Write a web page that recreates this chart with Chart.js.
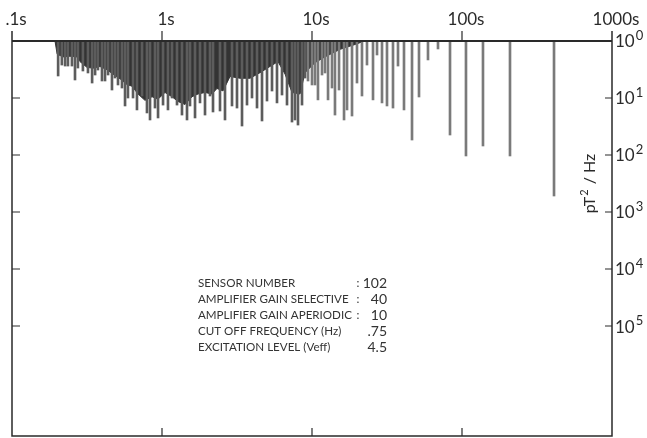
<!DOCTYPE html>
<html lang="en">
<head>
<meta charset="UTF-8" />
<title>Sensor 102 spectrum</title>
<script src="https://cdn.jsdelivr.net/npm/chart.js"></script>
<style>
  * { margin: 0; padding: 0; box-sizing: border-box; }
  body { background: #fff; width: 647px; height: 438px; overflow: hidden; }
  .wrap { position: relative; width: 647px; height: 438px; }
</style>
</head>
<body>
<div class="wrap"><canvas id="spectrum"></canvas></div>
<script>
// spectral lines: period (s) and power (pT^2/Hz)
const periods = [0.203, 0.215, 0.226, 0.236, 0.251, 0.263, 0.275, 0.297, 0.321, 0.342,
  0.358, 0.374, 0.398, 0.417, 0.437, 0.464, 0.486, 0.509, 0.541, 0.567,
  0.593, 0.641, 0.681, 0.736, 0.794, 0.832, 0.898, 0.941, 1.016, 1.096,
  1.166, 1.259, 1.359, 1.468, 1.537, 1.66, 1.792, 1.935, 2.089, 2.188,
  2.436, 2.63, 2.929, 3.162, 3.415, 3.687, 3.981, 4.299, 4.642, 5.012,
  5.412, 5.843, 6.31, 6.813, 7.356, 7.702, 8.065, 8.577, 8.983, 9.405,
  10.0, 10.47, 10.96, 11.66, 12.21, 12.79, 13.59, 14.23, 15.14, 16.35,
  17.12, 18.48, 19.95, 21.54, 23.26, 25.51, 27.13, 29.29, 31.62, 34.67,
  37.44, 41.05, 46.42, 51.68, 59.33, 69.18, 83.18, 106.3, 138.0, 208.9, 410.6];
const power = [4.11, 2.64, 2.75, 2.75, 2.75, 4.83, 2.98, 3.36, 3.64, 5.46,
  3.95, 3.23, 5.03, 5.03, 3.95, 7.24, 4.46, 5.91, 6.68, 13.8,
  10.0, 10.0, 16.2, 9.22, 18.3, 24.3, 15.0, 22.4, 13.3, 16.2,
  10.0, 13.3, 19.9, 24.3, 13.8, 22.4, 12.2, 19.9, 9.22, 17.6,
  16.9, 24.3, 13.8, 15.0, 31.0, 13.3, 10.0, 15.0, 25.3, 11.3,
  7.54, 12.2, 8.86, 13.3, 26.4, 24.3, 29.8, 13.3, 4.46, 5.03,
  5.91, 5.91, 10.8, 3.95, 3.64, 10.8, 6.68, 19.9, 7.24, 24.3,
  16.2, 20.7, 5.46, 9.22, 2.64, 10.8, 1.76, 12.2, 13.8, 15.0,
  2.75, 16.2, 54.6, 9.6, 2.15, 1.38, 44.6, 104, 69.5, 104, 524];

// lower edge of the dark, densely packed part of the spectrum
const massPeriods = [0.1935, 0.2, 0.219, 0.2435, 0.271, 0.284, 0.316, 0.347, 0.386, 0.43,
  0.471, 0.525, 0.584, 0.631, 0.692, 0.77, 0.858, 0.94, 1.047, 1.166,
  1.278, 1.424, 1.585, 1.738, 1.935, 2.154, 2.326, 2.551, 2.841, 3.311,
  3.862, 4.5, 5.248, 5.93, 6.61, 7.36, 8.32, 8.98, 10.47, 12.2, 15.4, 19.4, 22.4];
const massPower = [1.0, 1.7, 1.9, 1.85, 1.9, 2.3, 2.9, 3.0, 2.8, 3.2,
  3.8, 4.6, 5.8, 6.2, 8.5, 11.0, 9.5, 10.5, 8.0, 9.5,
  11.5, 13.0, 9.5, 8.5, 8.0, 8.5, 6.8, 7.5, 4.2, 4.5,
  4.5, 3.6, 2.8, 2.3, 3.8, 8.0, 8.5, 3.6, 2.4, 1.9, 1.4, 1.15, 1.0];

const xTicks = [0.1, 1, 10, 100, 1000];
const xTickLabels = [".1s", "1s", "10s", "100s", "1000s"];
const yTicks = [1, 10, 100, 1000, 10000, 100000];
const yExponents = ["0", "1", "2", "3", "4", "5"];

const infoLabels = ["SENSOR NUMBER", "AMPLIFIER GAIN SELECTIVE", "AMPLIFIER GAIN APERIODIC",
  "CUT OFF FREQUENCY (Hz)", "EXCITATION LEVEL (Veff)"];
const infoColons = [true, true, true, false, false];
const infoValues = ["102", "40", "10", ".75", "4.5"];

const FONT = "Lato, 'Open Sans', sans-serif";
const INK = "#2a2a2a";

const framePlugin = {
  id: "frame",
  afterDatasetsDraw(chart) {
    const { ctx, chartArea: a } = chart;
    const xs = chart.scales.x;
    const ys = chart.scales.y;
    ctx.save();
    ctx.strokeStyle = INK;
    ctx.fillStyle = INK;

    // frame
    ctx.lineWidth = 2;
    ctx.beginPath();
    ctx.moveTo(a.left, a.top);
    ctx.lineTo(a.right, a.top);
    ctx.stroke();
    ctx.lineWidth = 1.5;
    ctx.beginPath();
    ctx.moveTo(a.left, a.top - 10);
    ctx.lineTo(a.left, a.bottom);
    ctx.lineTo(a.right, a.bottom);
    ctx.lineTo(a.right, a.top - 10);
    ctx.stroke();

    // period ticks, top and bottom
    ctx.lineWidth = 1.2;
    xTicks.slice(1, -1).forEach(v => {
      const px = xs.getPixelForValue(v);
      ctx.beginPath();
      ctx.moveTo(px, a.top);
      ctx.lineTo(px, a.top - 10);
      ctx.moveTo(px, a.bottom);
      ctx.lineTo(px, a.bottom - 8);
      ctx.stroke();
    });
    ctx.font = "17px " + FONT;
    ctx.textAlign = "center";
    ctx.textBaseline = "alphabetic";
    xTicks.forEach((v, i) => {
      ctx.fillText(xTickLabels[i], xs.getPixelForValue(v) + 4, a.top - 16);
    });

    // power ticks, left and right
    yTicks.slice(1).forEach(v => {
      const py = ys.getPixelForValue(v);
      ctx.beginPath();
      ctx.moveTo(a.left, py);
      ctx.lineTo(a.left + 8, py);
      ctx.moveTo(a.right, py);
      ctx.lineTo(a.right - 7, py);
      ctx.stroke();
    });
    ctx.textAlign = "left";
    ctx.textBaseline = "middle";
    yTicks.forEach((v, i) => {
      const py = ys.getPixelForValue(v);
      ctx.font = "17px " + FONT;
      ctx.fillText("10", a.right + 3, py + 1);
      const w = ctx.measureText("10").width;
      ctx.font = "13px " + FONT;
      ctx.fillText(yExponents[i], a.right + 4 + w, py - 5);
    });

    // unit label
    ctx.save();
    ctx.translate(a.right - 22, ys.getPixelForValue(316));
    ctx.rotate(-Math.PI / 2);
    ctx.textBaseline = "middle";
    ctx.font = "16px " + FONT;
    const p1 = "pT", p3 = " / Hz";
    const w1 = ctx.measureText(p1).width;
    const w3 = ctx.measureText(p3).width;
    ctx.font = "11px " + FONT;
    const w2 = ctx.measureText("2").width + 2;
    let x0 = -(w1 + w2 + w3) / 2;
    ctx.font = "16px " + FONT;
    ctx.fillText(p1, x0, 0);
    ctx.font = "11px " + FONT;
    ctx.fillText("2", x0 + w1 + 1, -6);
    ctx.font = "16px " + FONT;
    ctx.fillText(p3, x0 + w1 + w2, 0);
    ctx.restore();

    // sensor settings
    ctx.fillStyle = "#333";
    ctx.textBaseline = "middle";
    infoLabels.forEach((t, i) => {
      const y = 283 + i * 16;
      ctx.font = "11.6px " + FONT;
      ctx.textAlign = "left";
      ctx.fillText(t, 198, y);
      if (infoColons[i]) ctx.fillText(":", 356.5, y);
      ctx.font = "14px " + FONT;
      ctx.textAlign = "right";
      ctx.fillText(infoValues[i], 387, y);
    });
    ctx.restore();
  }
};

const noAxis = {
  grid: { display: false, drawTicks: false },
  border: { display: false },
  ticks: { display: false },
};

new Chart(document.getElementById("spectrum"), {
  type: "bar",
  data: {
    datasets: [
      {
        type: "bar",
        order: 0,
        data: periods.map((p, i) => ({ x: p, y: [1, power[i]] })),
        backgroundColor: periods.map(p => (p < 9 ? "#5c5c5c" : "#7a7a7a")),
        barThickness: 2,
      },
      {
        type: "line",
        order: 1,
        data: massPeriods.map((p, i) => ({ x: p, y: massPower[i] })),
        borderColor: "#333",
        backgroundColor: "#333",
        borderWidth: 1,
        pointRadius: 0,
        fill: { value: 1 },
      },
    ],
  },
  options: {
    responsive: true,
    maintainAspectRatio: false,
    animation: false,
    layout: { padding: { top: 41, left: 12, right: 35, bottom: 2 } },
    scales: {
      x: { type: "logarithmic", position: "top", min: 0.1, max: 1000, ...noAxis },
      y: { type: "logarithmic", position: "right", reverse: true, min: 1, max: 8.5e6, ...noAxis },
    },
    plugins: { legend: { display: false }, tooltip: { enabled: false } },
  },
  plugins: [framePlugin],
});
</script>
</body>
</html>
